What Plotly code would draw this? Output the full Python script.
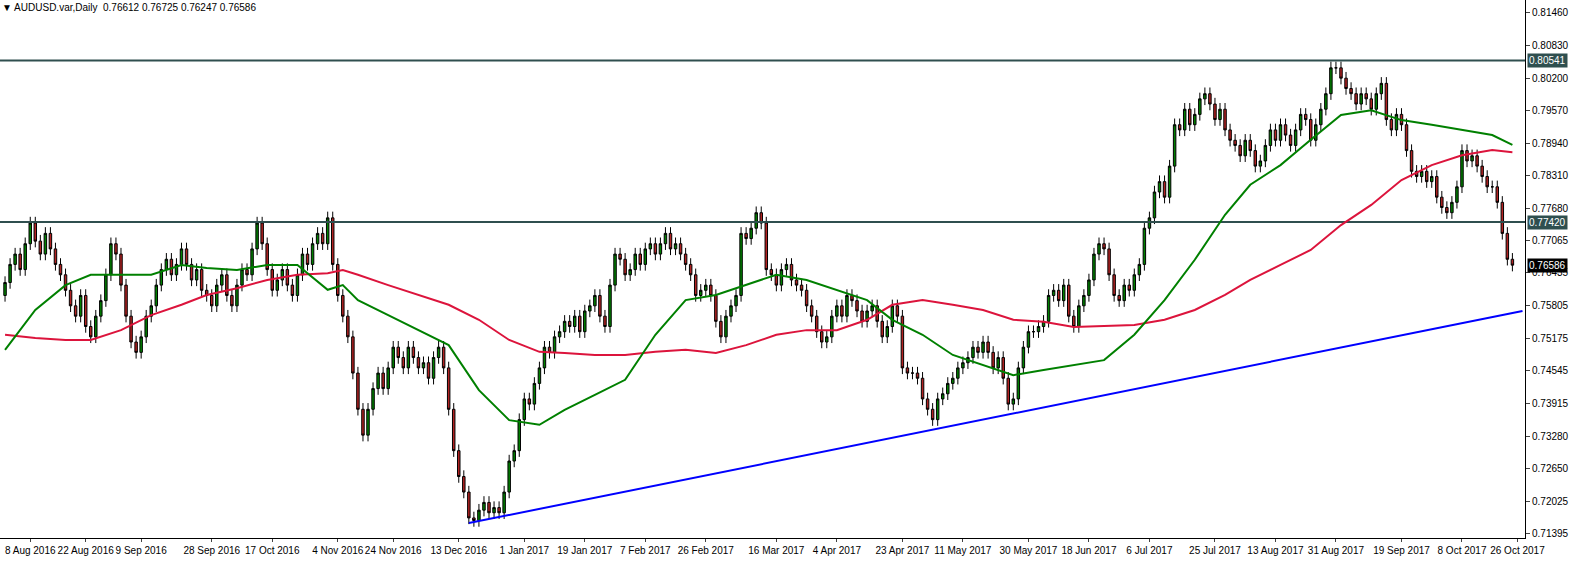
import plotly.graph_objects as go

closes = [
    0.7625, 0.7660, 0.7680, 0.7650, 0.7700, 0.7740, 0.7705, 0.7680, 0.7720, 0.7690,
    0.7660, 0.7640, 0.7610, 0.7580, 0.7560, 0.7600, 0.7540, 0.7520, 0.7560, 0.7590,
    0.7640, 0.7700, 0.7680, 0.7620, 0.7560, 0.7510, 0.7490, 0.7520, 0.7560, 0.7580,
    0.7620, 0.7650, 0.7670, 0.7640, 0.7660, 0.7690, 0.7660, 0.7630, 0.7650, 0.7610,
    0.7600, 0.7580, 0.7620, 0.7640, 0.7600, 0.7580, 0.7620, 0.7650, 0.7640, 0.7690,
    0.7740, 0.7700, 0.7650, 0.7610, 0.7630, 0.7650, 0.7620, 0.7600, 0.7640, 0.7680,
    0.7660, 0.7700, 0.7720, 0.7700, 0.7750, 0.7660, 0.7600, 0.7560, 0.7520, 0.7450,
    0.7380, 0.7330, 0.7380, 0.7420, 0.7450, 0.7420, 0.7460, 0.7500, 0.7480, 0.7460,
    0.7500, 0.7480, 0.7460, 0.7470, 0.7440, 0.7480, 0.7500, 0.7460, 0.7380, 0.7300,
    0.7250, 0.7220, 0.7170, 0.7165, 0.7185, 0.7200, 0.7180, 0.7190, 0.7180, 0.7220,
    0.7280, 0.7300, 0.7360, 0.7400, 0.7390, 0.7430, 0.7460, 0.7500, 0.7490, 0.7520,
    0.7530, 0.7550, 0.7540, 0.7560, 0.7530, 0.7570, 0.7580, 0.7600, 0.7560, 0.7540,
    0.7620, 0.7680, 0.7670, 0.7640, 0.7650, 0.7680, 0.7660, 0.7690, 0.7700, 0.7680,
    0.7700, 0.7720, 0.7690, 0.7700, 0.7680, 0.7660, 0.7640, 0.7600, 0.7610, 0.7620,
    0.7600, 0.7550, 0.7520, 0.7560, 0.7580, 0.7600, 0.7720, 0.7710, 0.7730, 0.7760,
    0.7740, 0.7650, 0.7640, 0.7620, 0.7650, 0.7660, 0.7630, 0.7620, 0.7610, 0.7580,
    0.7560, 0.7530, 0.7510, 0.7520, 0.7560, 0.7580, 0.7560, 0.7600, 0.7590, 0.7570,
    0.7550, 0.7570, 0.7580, 0.7550, 0.7520, 0.7540, 0.7580, 0.7560, 0.7460, 0.7450,
    0.7450, 0.7440, 0.7400, 0.7380, 0.7360, 0.7400, 0.7410, 0.7430, 0.7440, 0.7460,
    0.7470, 0.7480, 0.7500, 0.7490, 0.7510, 0.7490, 0.7460, 0.7480, 0.7440, 0.7390,
    0.7400, 0.7460, 0.7500, 0.7530, 0.7530, 0.7540, 0.7550, 0.7600, 0.7610, 0.7590,
    0.7620, 0.7560, 0.7540, 0.7580, 0.7600, 0.7630, 0.7680, 0.7700, 0.7690, 0.7640,
    0.7600, 0.7590, 0.7620, 0.7610, 0.7640, 0.7660, 0.7730, 0.7750, 0.7800, 0.7820,
    0.7790, 0.7850, 0.7930, 0.7920, 0.7960, 0.7930, 0.7950, 0.7980, 0.7990, 0.7970,
    0.7940, 0.7960, 0.7920, 0.7900, 0.7890, 0.7870, 0.7900, 0.7880, 0.7850, 0.7860,
    0.7890, 0.7920, 0.7900, 0.7930, 0.7910, 0.7890, 0.7920, 0.7950, 0.7940, 0.7900,
    0.7930, 0.7960, 0.7990, 0.8040, 0.8040, 0.8020, 0.8000, 0.7990, 0.7970, 0.7990,
    0.7980, 0.7960, 0.7990, 0.8010, 0.7940, 0.7920, 0.7950, 0.7930, 0.7880, 0.7840,
    0.7830, 0.7840, 0.7820, 0.7830, 0.7790, 0.7770, 0.7760, 0.7780, 0.7810, 0.7880,
    0.7860, 0.7870, 0.7850, 0.7830, 0.7810, 0.7810, 0.7780, 0.7720, 0.7670, 0.76586,
]
first_open = 0.7600
wick = 0.0012

# moving averages, sampled every ~6 bars
ma_x = [0, 6, 12, 17, 23, 29, 35, 40, 46, 52, 58, 64, 67, 70, 76, 82, 88, 94, 100, 106,
        111, 117, 123, 129, 135, 141, 147, 153, 159, 165, 171, 176, 182, 188, 194, 200,
        206, 212, 218, 224, 230, 236, 242, 247, 253, 259, 265, 271, 277, 283, 289, 295, 299]
ma_fast = [0.7495, 0.7572, 0.7620, 0.7640, 0.7640, 0.7640, 0.7659, 0.7653, 0.7649, 0.7659,
           0.7659, 0.7611, 0.7620, 0.7591, 0.7562, 0.7533, 0.7504, 0.7417, 0.7359, 0.7350,
           0.7379, 0.7408, 0.7437, 0.7524, 0.7591, 0.7601, 0.7620, 0.7640, 0.7630, 0.7611,
           0.7591, 0.7553, 0.7524, 0.7485, 0.7466, 0.7446, 0.7456, 0.7466, 0.7475, 0.7524,
           0.7591, 0.7669, 0.7756, 0.7814, 0.7852, 0.7901, 0.7949, 0.7958, 0.7939, 0.7930,
           0.7920, 0.7910, 0.7891]
ma_slow = [0.7524, 0.7518, 0.7514, 0.7514, 0.7533, 0.7562, 0.7582, 0.7601, 0.7614, 0.7630,
           0.7640, 0.7643, 0.7649, 0.7640, 0.7620, 0.7601, 0.7582, 0.7553, 0.7514, 0.7491,
           0.7489, 0.7485, 0.7485, 0.7491, 0.7495, 0.7489, 0.7504, 0.7524, 0.7533, 0.7533,
           0.7553, 0.7582, 0.7591, 0.7582, 0.7572, 0.7553, 0.7549, 0.7539, 0.7541, 0.7543,
           0.7553, 0.7572, 0.7601, 0.7630, 0.7659, 0.7688, 0.7736, 0.7775, 0.7823, 0.7852,
           0.7871, 0.7881, 0.7877]

trend_x = [92, 301]
trend_y = [0.7160, 0.7570]
levels = [0.80541, 0.77420]
last_price = 0.76586

y_ticks = [0.81460, 0.80830, 0.80200, 0.79570, 0.78940, 0.78310, 0.77680, 0.77065,
           0.76435, 0.75805, 0.75175, 0.74545, 0.73915, 0.73280, 0.72650, 0.72025, 0.71395]
x_tick_pos = [5, 16, 27, 41, 53, 66, 77, 90, 103, 115, 127, 139, 153, 165, 178, 190,
              203, 215, 227, 240, 252, 264, 277, 289, 300]
x_tick_text = ['8 Aug 2016', '22 Aug 2016', '9 Sep 2016', '28 Sep 2016', '17 Oct 2016',
               '4 Nov 2016', '24 Nov 2016', '13 Dec 2016', '1 Jan 2017', '19 Jan 2017',
               '7 Feb 2017', '26 Feb 2017', '16 Mar 2017', '4 Apr 2017', '23 Apr 2017',
               '11 May 2017', '30 May 2017', '18 Jun 2017', '6 Jul 2017', '25 Jul 2017',
               '13 Aug 2017', '31 Aug 2017', '19 Sep 2017', '8 Oct 2017', '26 Oct 2017']

opens = [first_open] + closes[:-1]
highs = [max(o, c) + wick for o, c in zip(opens, closes)]
lows = [min(o, c) - wick for o, c in zip(opens, closes)]
idx = list(range(len(closes)))

fig = go.Figure()
for lv in levels:
    fig.add_trace(go.Scatter(x=[-5, 305], y=[lv, lv], mode='lines',
                             line=dict(color='#2f4f4f', width=2), hoverinfo='skip'))
fig.add_trace(go.Scatter(x=ma_x, y=ma_slow, mode='lines', line=dict(color='#dc143c', width=2)))
fig.add_trace(go.Scatter(x=ma_x, y=ma_fast, mode='lines', line=dict(color='#008000', width=2)))
fig.add_trace(go.Candlestick(
    x=idx, open=opens, high=highs, low=lows, close=closes,
    increasing=dict(line=dict(color='black', width=1), fillcolor='#008000'),
    decreasing=dict(line=dict(color='black', width=1), fillcolor='#b22222'),
    whiskerwidth=0,
))
fig.add_trace(go.Scatter(x=trend_x, y=trend_y, mode='lines', line=dict(color='#0000ff', width=2)))

for lv, bg in [(levels[0], '#2f4f4f'), (levels[1], '#2f4f4f'), (last_price, 'black')]:
    fig.add_annotation(x=1, xref='paper', xanchor='left', y=lv, yref='y',
                       text='%.5f' % lv, showarrow=False, bgcolor=bg,
                       font=dict(color='white', size=10, family='Arial'), xshift=2)

fig.add_annotation(x=0, y=1, xref='paper', yref='paper', xanchor='left', yanchor='top',
                   text='▼ AUDUSD.var,Daily  0.76612 0.76725 0.76247 0.76586',
                   showarrow=False, font=dict(size=10, color='black', family='Arial'))

fig.update_layout(
    width=1590, height=563,
    margin=dict(l=0, r=65, t=0, b=25, autoexpand=False),
    paper_bgcolor='white', plot_bgcolor='white',
    showlegend=False,
    xaxis=dict(range=[-1, 301.5], tickvals=x_tick_pos, ticktext=x_tick_text,
               rangeslider=dict(visible=False), showgrid=False, zeroline=False,
               showline=True, linecolor='black', ticks='outside', ticklen=3,
               tickangle=0, automargin=False,
               tickfont=dict(size=10, color='black', family='Arial')),
    yaxis=dict(range=[0.71312, 0.81711], side='right', tickvals=y_ticks,
               tickformat='.5f', showgrid=False, zeroline=False, automargin=False,
               showline=True, linecolor='black', ticks='outside', ticklen=4,
               tickfont=dict(size=10, color='black', family='Arial')),
)
fig.write_html('out.html', config={'displayModeBar': False},
               post_script="document.body.style.margin='0';document.body.style.overflow='hidden';")
